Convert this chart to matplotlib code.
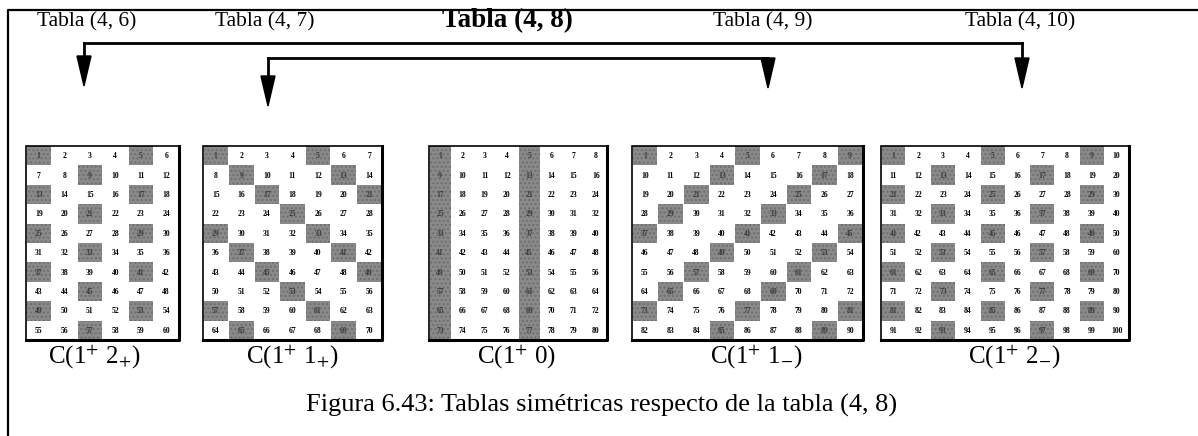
import matplotlib
matplotlib.use("Agg")
import matplotlib.pyplot as plt
from matplotlib.patches import Rectangle, Polygon

plt.rcParams['mathtext.fontset'] = 'stix'

# ---- data ----
table_names = ["Tabla (4, 6)", "Tabla (4, 7)", "Tabla (4, 8)", "Tabla (4, 9)", "Tabla (4, 10)"]
table_cols = [6, 7, 8, 9, 10]
table_rows = [10, 10, 10, 10, 10]
shade_step = 4          # cells n with (n - 1) % 4 == 0 are shaded
table_labels = [r"C(1$^{+}$ 2$_{+}$)", r"C(1$^{+}$ 1$_{+}$)", r"C(1$^{+}$ 0)",
                r"C(1$^{+}$ 1$_{-}$)", r"C(1$^{+}$ 2$_{-}$)"]
caption = "Figura 6.43: Tablas simétricas respecto de la tabla (4, 8)"

# ---- layout (pixels) ----
W, H = 1198, 436
fig = plt.figure(figsize=(W / 100, H / 100), dpi=100)
ax = fig.add_axes([0, 0, 1, 1])
ax.set_xlim(0, W)
ax.set_ylim(H, 0)
ax.axis('off')

serif = ['Liberation Serif', 'DejaVu Serif']

# outer frame (left + top)
ax.plot([8, 8, W], [H, 10, 10], color='black', lw=1.6, solid_capstyle='butt')

# titles
title_x = [87, 265, 507, 763, 1020]
for i, name in enumerate(table_names):
    if i == 2:
        ax.text(title_x[i], 21, name, ha='center', va='center', fontsize=19.5,
                fontweight='bold', family=serif)
    else:
        ax.text(title_x[i], 22, name, ha='center', va='center', fontsize=15.5,
                family=serif)

def arrow_down(x, y0, y1):
    ax.plot([x, x], [y0, y1 - 28], color='black', lw=2)
    ax.add_patch(Polygon([[x - 7, y1 - 30], [x + 7, y1 - 30], [x, y1]],
                         closed=True, color='black'))

# connector 1: (4,6) <-> (4,10)
ax.plot([84, 1022], [43, 43], color='black', lw=2)
arrow_down(84, 43, 86)
arrow_down(1022, 43, 88)
# connector 2: (4,7) <-> (4,9)
ax.plot([268, 768], [58, 58], color='black', lw=2)
arrow_down(268, 58, 106)
arrow_down(768, 58, 88)

# tables
t_left = [26, 203, 429, 632, 881]
t_right = [179, 382, 607, 863, 1129]
t_top, t_bot = 146, 340
label_x = [94, 292, 516, 756, 1014]

for k in range(5):
    nc, nr = table_cols[k], table_rows[k]
    x0, x1 = t_left[k], t_right[k]
    cw = (x1 - x0) / nc
    rh = (t_bot - t_top) / nr
    for r in range(nr):
        for c in range(nc):
            n = r * nc + c + 1
            cx = x0 + c * cw
            cy = t_top + r * rh
            shaded = (n - 1) % shade_step == 0
            if shaded:
                ax.add_patch(Rectangle((cx + 0.5, cy), cw - 1, rh,
                                       facecolor='#8a8a8a', edgecolor='#6e6e6e',
                                       hatch='....', lw=0))
            ax.text(cx + cw / 2, cy + rh / 2 + 0.5, str(n), ha='center', va='center',
                    fontsize=5.5, fontweight='bold', family=serif,
                    color='#3a3a3a' if shaded else 'black')
    ax.add_patch(Rectangle((x0, t_top), x1 - x0, t_bot - t_top, facecolor='none',
                           edgecolor='black', lw=1.2))
    ax.plot([x1, x1, x0], [t_top, t_bot, t_bot], color='black', lw=2.2)
    ax.text(label_x[k], 357, table_labels[k], ha='center', va='center', fontsize=18,
            family=serif)

ax.text(602, 405, caption, ha='center', va='center', fontsize=19, family=serif)

fig.savefig('out.png', dpi=100)
